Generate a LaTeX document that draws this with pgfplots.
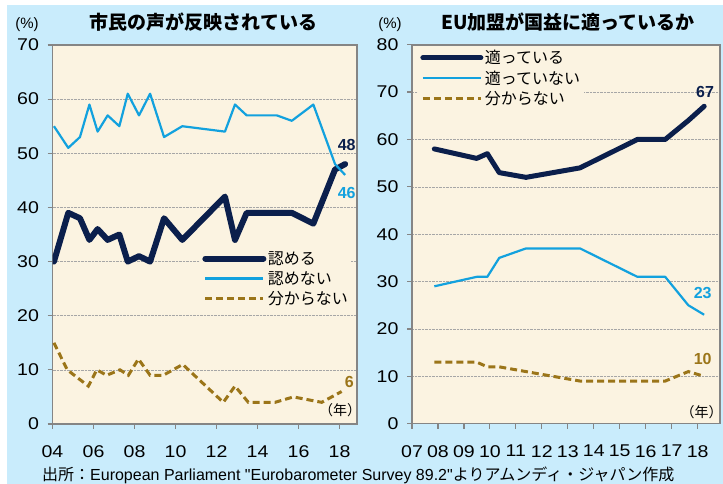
\documentclass[border=0pt]{standalone}
\usepackage{pgfplots}
\pgfplotsset{compat=1.18}
\usepackage{fontspec}
\setmainfont{Liberation Sans}
\newfontfamily\src{Liberation Sans}
\newfontfamily\tickf[FakeStretch=1.15]{Liberation Sans}
\newfontfamily\jp{Noto Sans CJK JP}
\definecolor{bgblue}{HTML}{C9ECFC}
\definecolor{cream}{HTML}{FBF3E1}
\definecolor{navy}{HTML}{0B1F4C}
\definecolor{skyb}{HTML}{12A1DE}
\definecolor{brownd}{HTML}{9B7519}
\definecolor{axgray}{HTML}{858585}
\pgfplotsset{
 panel/.style={
  scale only axis, anchor=south west,
  axis background/.style={fill=cream},
  axis line style={draw=axgray, line width=1.6pt},
  tick style={draw=axgray, line width=1.2pt},
  tick align=outside, major tick length=5pt,
  tick pos=left,
  ymajorgrids, grid style={densely dotted, gray!70, line width=0.6pt},
  ymin=0,
  ticklabel style={font=\tickf\fontsize{17}{17}\selectfont},
  /pgf/number format/assume math mode=true,
  xticklabel style={yshift=-13pt},
  yticklabel style={xshift=-5pt},
  legend cell align=left,
  legend style={draw=none, fill=cream, font=\jp\fontsize{16}{16}\selectfont,
    row sep=2.5pt, inner sep=2pt, nodes={inner sep=1.5pt}},
  legend image code/.code={\draw[##1] (0pt,0pt) -- (58pt,0pt);},
 },
 navyl/.style={navy, line width=6pt, line cap=round, line join=round},
 bluel/.style={skyb, line width=2.2pt, line join=round},
 brownl/.style={brownd, line width=3pt, dash pattern=on 7pt off 4pt},
}
\begin{document}
\begin{tikzpicture}[x=1pt,y=1pt]
\path[use as bounding box] (0,0) rectangle (723,484);
\fill[white] (0,0) rectangle (723,484);
\fill[bgblue] (7,0) rectangle (723,479);

\begin{axis}[panel, at={(52.5pt,60pt)}, width=304.5pt, height=379pt,
  xmin=2004, xmax=2018.85, ymax=70,
  xtick={2004,2006,...,2018}, xticklabels={04,06,08,10,12,14,16,18},
  ytick={0,10,...,70},
  legend style={at={(0.485,0.465)}, anchor=north west}]
\addplot[navyl] coordinates {(2004.07,30) (2004.77,39) (2005.34,38) (2005.8,34) (2006.2,36) (2006.69,34) (2007.26,35) (2007.67,30) (2008.22,31) (2008.76,30) (2009.44,38) (2010.33,34) (2012.41,42) (2012.9,34) (2013.47,39) (2014.94,39) (2015.67,39) (2016.72,37) (2017.78,47) (2018.27,48)};
\addlegendentry{認める}
\addplot[bluel] coordinates {(2004.07,55) (2004.77,51) (2005.34,53) (2005.8,59) (2006.2,54) (2006.69,57) (2007.26,55) (2007.67,61) (2008.22,57) (2008.76,61) (2009.44,53) (2010.33,55) (2012.41,54) (2012.9,59) (2013.47,57) (2014.94,57) (2015.67,56) (2016.72,59) (2017.78,48) (2018.27,46)};
\addlegendentry{認めない}
\addplot[brownl] coordinates {(2004.07,15) (2004.72,10) (2005.75,7) (2006.16,10) (2006.64,9) (2007.29,10) (2007.7,9) (2008.19,12) (2008.76,9) (2009.4,9) (2010.35,11) (2012.33,4) (2012.9,7) (2013.55,4) (2014.85,4) (2015.75,5) (2017.13,4) (2018.1,6)};
\addlegendentry{分からない}
\end{axis}

\begin{axis}[panel, at={(412pt,60.3pt)}, width=308pt, height=379pt,
  xmin=2007, xmax=2018.86, ymax=80,
  xtick={2007,...,2018}, xticklabels={07,08,09,10,11,12,13,14,15,16,17,18},
  ytick={0,10,...,80},
  legend style={at={(0.02,0.995)}, anchor=north west}]
\addplot[navyl, line width=5pt] coordinates {(2007.86,58) (2009.49,56) (2009.9,57) (2010.36,53) (2011.39,52) (2013.47,54) (2015.68,60) (2016.75,60) (2017.64,64) (2018.25,67)};
\addlegendentry{適っている}
\addplot[bluel] coordinates {(2007.86,29) (2009.49,31) (2009.9,31) (2010.36,35) (2011.39,37) (2013.47,37) (2015.68,31) (2016.75,31) (2017.64,25) (2018.25,23)};
\addlegendentry{適っていない}
\addplot[brownl] coordinates {(2007.86,13) (2009.49,13) (2009.9,12) (2010.36,12) (2011.39,11) (2013.47,9) (2015.68,9) (2016.75,9) (2017.64,11) (2018.25,10)};
\addlegendentry{分からない}
\end{axis}

\node[font=\jp\bfseries\fontsize{19}{19}\selectfont] at (203.5,462) {市民の声が反映されている};
\node[font=\jp\bfseries\fontsize{19}{19}\selectfont] at (568,462) {EU加盟が国益に適っているか};
\node[font=\fontsize{15}{15}\selectfont] at (27,459) {(\%)};
\node[font=\fontsize{15}{15}\selectfont] at (390,459) {(\%)};
\node[font=\bfseries\fontsize{16}{16}\selectfont, text=navy] at (346.7,339) {48};
\node[font=\bfseries\fontsize{16}{16}\selectfont, text=skyb] at (346.7,290.7) {46};
\node[font=\bfseries\fontsize{16}{16}\selectfont, text=brownd] at (349.3,102.3) {6};
\node[font=\bfseries\fontsize{16}{16}\selectfont, text=navy] at (705,391.7) {67};
\node[font=\bfseries\fontsize{16}{16}\selectfont, text=skyb] at (702.7,190.7) {23};
\node[font=\bfseries\fontsize{16}{16}\selectfont, text=brownd] at (702.7,125) {10};
\node[font=\jp\fontsize{14}{14}\selectfont] at (340,74) {（年）};
\node[font=\jp\fontsize{14}{14}\selectfont] at (701.7,72.3) {（年）};
\node[anchor=west, font=\src\fontsize{16}{16}\selectfont, inner sep=0pt] at (42,9) {{\jp 出所：}European Parliament "Eurobarometer Survey 89.2"{\jp よりアムンディ・ジャパン作成}};
\end{tikzpicture}
\end{document}
